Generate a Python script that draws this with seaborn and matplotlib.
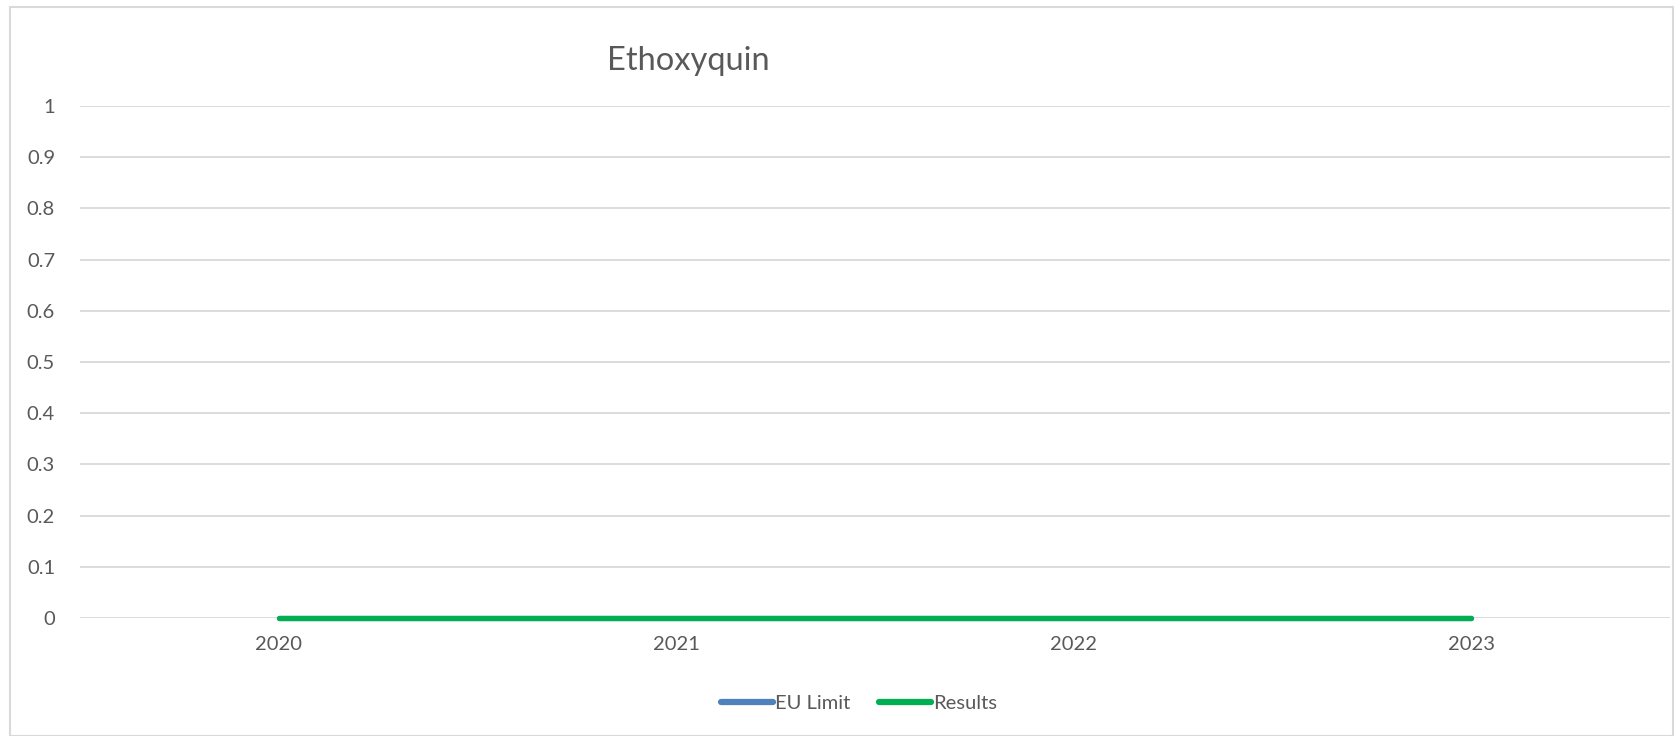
import seaborn as sns
import numpy as np
import pandas as pd
import matplotlib.pyplot as plt
from matplotlib.patches import Rectangle

years = [2020, 2021, 2022, 2023]
eu_limit = [0, 0, 0, 0]
results = [0, 0, 0, 0]
y_ticks = [0, 0.1, 0.2, 0.3, 0.4, 0.5, 0.6, 0.7, 0.8, 0.9, 1]
y_labels = ['0', '0.1', '0.2', '0.3', '0.4', '0.5', '0.6', '0.7', '0.8', '0.9', '1']

df = pd.DataFrame({
    'Year': years * 2,
    'Value': eu_limit + results,
    'Series': ['EU Limit'] * len(years) + ['Results'] * len(years),
})

sns.set_style('white')
plt.rcParams['font.family'] = ['Lato', 'DejaVu Sans']
grey = '#595959'

fig = plt.figure(figsize=(16.78, 7.36), dpi=100)
ax = fig.add_axes([0.0477, 0.1603, 0.9475, 0.6957])

sns.lineplot(data=df, x='Year', y='Value', hue='Series',
             palette={'EU Limit': '#4F81BD', 'Results': '#00B050'},
             linewidth=3.8, solid_capstyle='round', ax=ax, legend=False)
for ln in ax.lines:
    ln.set_clip_on(False)

ax.set_xlim(2019.5, 2023.5)
ax.set_ylim(0, 1)
ax.set_xticks(years)
ax.set_xticklabels([str(y) for y in years])
ax.set_yticks(y_ticks)
ax.set_yticklabels(y_labels)
ax.set_xlabel('')
ax.set_ylabel('')
for s in ax.spines.values():
    s.set_visible(False)
ax.yaxis.grid(True, color='#D9D9D9', linewidth=1.3)
ax.set_axisbelow(True)
ax.tick_params(axis='both', length=0, labelsize=14.5, colors=grey)
ax.tick_params(axis='x', pad=13)
ax.tick_params(axis='y', pad=18)

fig.text(0.41, 0.917, 'Ethoxyquin', ha='center', va='center',
         fontsize=23.5, color=grey)

handles = [plt.Line2D([], [], color='#4F81BD', linewidth=4.5, solid_capstyle='round'),
           plt.Line2D([], [], color='#00B050', linewidth=4.5, solid_capstyle='round')]
fig.legend(handles, ['EU Limit', 'Results'], loc='center', bbox_to_anchor=(0.512, 0.044),
           ncol=2, frameon=False, fontsize=14.5, handlelength=2.6, handletextpad=0.1,
           columnspacing=1.4, labelcolor=grey)

fig.patches.append(Rectangle((0.006, 0.0), 0.991, 0.99, transform=fig.transFigure,
                             fill=False, edgecolor='#D9D9D9', linewidth=1.5))

fig.savefig('out.png', dpi=100)
